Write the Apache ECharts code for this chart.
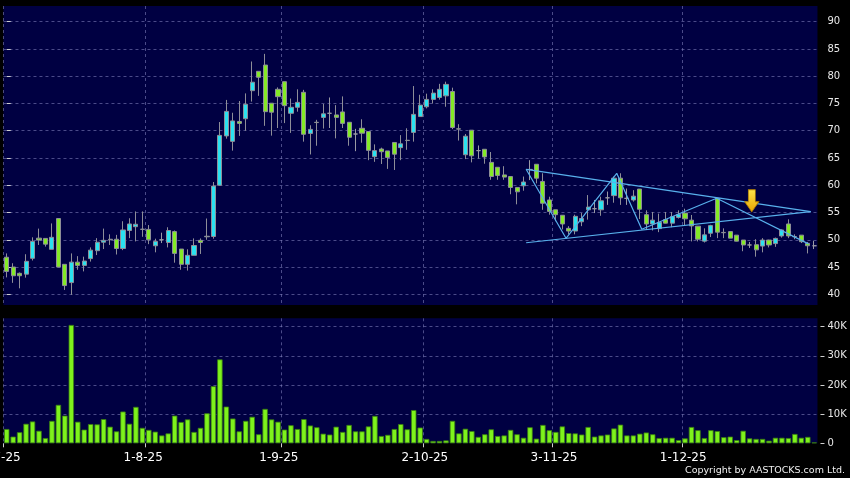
<!DOCTYPE html>
<html><head><meta charset="utf-8">
<script src="https://cdn.jsdelivr.net/npm/echarts@6/dist/echarts.min.js"></script>
<style>html,body{margin:0;padding:0;background:#000;}#c{width:850px;height:478px;}</style>
</head><body><div id="c"></div>
<script>
// Trading days per month (2025)
const julDays = [2,3,4,7,8,9,10,11,14,15,16,17,18,21,22,23,24,25,28,29,30,31];
const augDays = [1,4,5,6,7,8,11,12,13,14,15,18,19,20,21,22,25,26,27,28,29];
const sepDays = [1,2,3,4,5,8,9,10,11,12,15,16,17,18,19,22,23,24,25,26,29,30];
const octDays = [2,3,6,8,9,10,13,14,15,16,17,20,21,22,23,24,27,28,30,31];
const novDays = [3,4,5,6,7,10,11,12,13,14,17,18,19,20,21,24,25,26,27,28];
const decDays = [1,2,3,4,5,8,9,10,11,12,15,16,17,18,19,22,23,24,29,30,31];
const axisDates = ['2-7-25','1-8-25','1-9-25','2-10-25','3-11-25','1-12-25'];

const open = [46.8,45.0,43.85,43.7,46.6,50.3,50.25,48.25,53.9,45.5,
42.15,45.9,45.3,46.55,48.0,49.55,50.1,50.1,48.4,51.7,
52.4,51.95,51.9,48.9,50.0,49.5,51.5,48.3,45.5,47.15,
49.9,50.55,50.6,60.0,69.05,68.05,71.7,72.2,77.35,80.9,
82.05,75.05,77.6,79.0,73.2,74.3,77.05,69.5,71.55,72.45,
73.2,72.9,73.45,71.55,69.4,70.45,69.85,65.25,66.65,66.3,
67.85,66.9,68.25,69.7,72.6,74.4,75.75,76.1,76.4,77.2,
70.35,65.6,70.1,66.35,66.6,64.2,63.3,61.9,61.6,59.6,
59.9,62.9,63.85,60.7,57.3,55.5,54.5,52.1,51.6,53.3,
55.5,55.7,55.5,57.7,58.1,61.3,57.6,57.3,59.3,54.6,
52.9,52.05,53.7,53.05,54.1,54.9,53.6,52.5,49.75,51.2,
57.6,51.35,51.5,50.85,49.95,49.05,49.1,48.85,49.95,49.3,
50.7,52.9,50.6,50.85,49.35,48.9];
const close = [44.2,43.4,43.4,46.05,49.7,49.95,49.2,50.45,45.0,41.6,
45.9,45.3,46.1,48.1,49.55,49.9,50.0,48.4,51.8,52.9,
52.85,51.9,50.0,49.7,50.0,51.7,47.5,45.5,47.15,48.95,
49.5,50.65,59.85,69.15,73.55,71.8,71.35,74.85,78.9,79.8,
73.5,73.4,76.25,74.6,74.3,75.2,69.35,70.25,71.5,73.1,
73.2,72.45,71.35,68.8,69.4,69.55,66.4,66.35,66.15,65.1,
65.7,67.6,68.2,73.0,74.7,75.75,76.9,77.6,78.5,70.6,
70.3,69.0,65.4,66.35,65.2,61.6,61.8,61.5,59.6,58.8,
60.6,62.9,61.3,56.7,55.2,54.6,52.9,51.6,54.3,53.9,
56.0,55.7,57.15,57.7,61.3,57.7,57.6,58.0,55.6,52.9,
53.6,53.2,53.05,54.25,54.65,53.85,52.55,50.1,50.9,52.6,
51.4,51.3,50.3,49.75,49.05,49.05,48.15,49.95,49.05,50.25,
51.8,50.7,50.55,49.65,48.9,48.9];
const low = [43.1,42.1,41.1,43.05,46.2,49.05,48.75,48.25,45.0,40.8,
39.9,44.5,44.2,46.0,47.2,48.3,49.05,47.3,48.1,50.3,
49.7,50.55,49.2,47.7,49.4,48.6,45.8,44.5,44.35,47.15,
47.4,50.0,50.2,59.9,68.55,66.35,69.05,70.0,75.35,76.4,
70.9,69.1,70.5,71.4,69.6,73.5,68.0,65.65,67.25,70.4,
70.5,68.6,70.5,67.25,66.25,67.8,64.6,64.3,63.9,63.0,
62.8,64.6,66.5,68.0,72.6,74.1,75.0,75.7,74.4,70.3,
68.2,64.8,64.2,64.9,63.95,61.0,61.0,61.0,58.35,56.5,
59.0,60.95,60.35,55.5,54.6,53.4,51.9,51.0,51.0,52.5,
53.7,54.9,54.4,56.4,56.8,56.4,56.4,57.0,53.8,51.8,
51.7,51.4,53.0,52.3,53.9,52.7,49.7,49.7,49.5,50.5,
50.3,50.3,50.3,49.7,47.9,48.5,46.9,47.7,48.6,48.7,
50.4,50.3,50.1,49.4,47.5,48.3];
const high = [47.5,45.7,44.0,47.35,50.45,52.05,50.3,53.0,53.9,45.5,
47.5,47.0,46.9,48.6,50.3,52.05,51.0,50.9,53.4,53.95,
55.2,55.2,52.7,50.2,51.3,52.3,51.7,48.3,48.25,50.25,
50.25,53.9,60.6,71.6,75.65,73.3,75.45,76.85,82.7,80.9,
84.1,75.05,77.95,79.0,75.9,77.6,77.5,71.0,72.0,74.9,
76.1,74.7,76.3,71.55,70.35,72.1,69.85,67.5,66.9,66.3,
67.85,69.2,70.45,78.2,76.6,76.8,77.6,78.6,79.0,77.9,
71.2,69.4,70.1,67.3,66.6,66.1,63.3,63.5,61.6,59.6,
61.6,64.6,63.85,62.2,57.9,55.5,54.5,52.5,54.6,54.9,
58.2,57.3,57.9,58.85,61.6,62.2,59.4,59.1,59.3,55.4,
55.1,54.8,55.1,55.1,55.4,55.7,54.55,52.5,52.1,52.75,
57.6,52.1,51.5,50.85,49.95,49.6,50.1,50.3,50.0,50.4,
51.9,53.75,51.0,50.85,49.6,49.8];
// Volume in thousands of shares
const volumeK = [4.9,2.3,3.8,6.7,7.5,4.3,1.8,7.7,13.2,9.5,
40.6,7.4,4.7,6.6,6.5,8.3,5.7,4.1,10.9,6.7,
12.5,5.3,4.6,4.0,2.7,3.4,9.5,7.3,8.2,3.9,
5.3,10.3,19.6,28.8,12.6,8.5,4.1,7.7,9.1,3.1,
11.8,8.2,7.4,4.7,6.2,4.9,8.3,6.1,5.5,3.3,
3.0,5.7,3.9,6.3,4.1,4.1,5.8,9.4,2.5,2.9,
4.9,6.6,4.8,11.4,5.4,1.5,0.8,0.8,1.0,7.7,
3.4,5.0,4.2,2.2,3.1,4.8,2.5,2.7,4.6,3.1,
1.9,5.5,1.6,6.3,4.5,3.9,5.8,3.5,3.4,3.0,
5.6,2.3,2.7,3.0,5.1,6.4,2.7,2.7,3.3,3.7,
3.1,1.8,1.9,1.9,1.1,1.7,5.6,4.5,1.8,4.5,
4.2,2.1,2.3,1.1,4.3,1.7,1.5,1.5,0.9,1.9,
1.9,1.8,3.2,1.9,2.2,0.3];
// Annotation (drawn trend lines) in [candle index, price]
const triUpper = [[80.4,62.93],[124.46,55.15]];
const triLower = [[80.4,49.46],[124.46,55.15]];
const zigzag = [[80.4,62.93],[86.58,50.27],[94.43,62.19],[98.3,51.92],[109.9,57.61],[124.1,49.25]];
const arrowAt = [115.33,57.14];

const months = [[7,julDays],[8,augDays],[9,sepDays],[10,octDays],[11,novDays],[12,decDays]];
const dates = [];
months.forEach(([m, days]) => days.forEach(d => dates.push(d + '-' + m + '-25')));
const edgeDates = dates.concat(['']);
const candles = dates.map((d, i) => [open[i], close[i], low[i], high[i]]);

const FONT = 'DejaVu Sans';
const L = 3.47, W = 814;
const PANEL = '#000042';
const GRIDC = 'rgba(125,125,185,0.6)';
const showDate = (i, v) => axisDates.indexOf(v) >= 0;
const hideAll = {axisLine:{show:false},axisTick:{show:false},axisLabel:{show:false},splitLine:{show:false}};

const chart = echarts.init(document.getElementById('c'), null, {renderer:'canvas'});
chart.setOption({
  backgroundColor: '#000',
  animation: false,
  graphic: [
    {id:'bg1', type:'rect', z:-100, silent:true, shape:{x:L, y:6, width:W, height:299}, style:{fill:PANEL}},
    {id:'bg2', type:'rect', z:-100, silent:true, shape:{x:L, y:318.3, width:W, height:125}, style:{fill:PANEL}},
    {id:'copy', type:'text', right:5, top:466, style:{text:'Copyright by AASTOCKS.com Ltd.', fill:'#f0f0f0', font:'9.5px "DejaVu Sans"'}}
  ],
  grid: [
    {left:L, width:W, top:6, height:299},
    {left:L, width:W, top:21.7, height:272.6},
    {left:L, width:W, top:318.3, height:125},
    {left:L, width:W, top:326.7, height:116.6}
  ],
  xAxis: [
    {gridIndex:0, type:'category', data:edgeDates, boundaryGap:false,
      axisLine:{show:false}, axisTick:{show:false}, axisLabel:{show:false},
      splitLine:{show:true, interval:showDate, lineStyle:{color:GRIDC, type:[3,3], width:1}}},
    Object.assign({gridIndex:1, type:'category', data:dates, boundaryGap:true}, hideAll),
    Object.assign({gridIndex:1, type:'value', min:-0.5, max:dates.length-0.5}, hideAll),
    {gridIndex:2, type:'category', data:edgeDates, boundaryGap:false,
      axisLine:{show:false},
      axisTick:{show:true, interval:showDate, length:4, lineStyle:{color:'#cfcfcf'}},
      axisLabel:{show:false},
      splitLine:{show:true, interval:showDate, lineStyle:{color:GRIDC, type:[3,3], width:1}}},
    Object.assign({gridIndex:3, type:'category', data:dates, boundaryGap:true}, hideAll)
  ],
  yAxis: [
    Object.assign({gridIndex:0, type:'value'}, hideAll),
    {gridIndex:1, type:'value', min:40, max:90, interval:5, position:'right', offset:3,
      axisLine:{show:false},
      axisTick:{show:true, length:4, lineStyle:{color:'#cfcfcf'}},
      axisLabel:{margin:7, fontSize:10, fontFamily:FONT, color:'#e8e8e8'},
      splitLine:{show:true, lineStyle:{color:GRIDC, type:[3,3], width:1}}},
    Object.assign({gridIndex:2, type:'value'}, hideAll),
    {gridIndex:3, type:'value', min:0, max:40, interval:10, position:'right', offset:3,
      axisLine:{show:false},
      axisTick:{show:true, length:4, lineStyle:{color:'#cfcfcf'}},
      axisLabel:{margin:7, fontSize:10, fontFamily:FONT, color:'#e8e8e8',
        formatter: v => v === 0 ? '0' : v + 'K'},
      splitLine:{show:true, showMinLine:false, lineStyle:{color:GRIDC, type:[3,3], width:1}}}
  ],
  series: [
    {type:'candlestick', xAxisIndex:1, yAxisIndex:1, data:candles, barWidth:4.6,
      itemStyle:{color:'#2ae2f0', color0:'#84ea26', borderColor:'#8e8e98', borderColor0:'#8e8e98',
        borderColorDoji:'#9a9aa4', borderWidth:1}},
    {type:'line', xAxisIndex:2, yAxisIndex:1, data:triUpper, symbol:'none',
      lineStyle:{color:'#58b0ec', width:1.2}},
    {type:'line', xAxisIndex:2, yAxisIndex:1, data:triLower, symbol:'none',
      lineStyle:{color:'#58b0ec', width:1.2}},
    {type:'line', xAxisIndex:2, yAxisIndex:1, data:zigzag, symbol:'none',
      lineStyle:{color:'#58b0ec', width:1.2},
      markPoint:{silent:true, label:{show:false},
        data:[{coord:arrowAt, symbol:'path://M3.5,0 L10.5,0 L10.5,12 L14,12 L7,22 L0,12 L3.5,12 Z', symbolSize:[14,22],
          itemStyle:{color:{type:'linear', x:0, y:0, x2:0, y2:1, colorStops:[{offset:0,color:'#ffe54a'},{offset:1,color:'#e8a400'}]},
            borderColor:'#b58100', borderWidth:0.8}}]}},
    {type:'bar', xAxisIndex:4, yAxisIndex:3, data:volumeK, barWidth:5.4, clip:false,
      itemStyle:{color:'#7ef21c', borderColor:'#3a7d12', borderWidth:0.8}}
  ]
});

// Date tick labels: placed through the axis scale, text left edge 22px before each month gridline
const labelY = chart.convertToPixel({gridIndex:2}, [0, 0]);
const grid2Bottom = chart.getModel().getComponent('grid', 2).coordinateSystem.getRect();
const baseY = grid2Bottom.y + grid2Bottom.height;
chart.setOption({
  graphic: axisDates.map((t, n) => ({
    id: 'dl' + n, type: 'text',
    x: chart.convertToPixel({xAxisIndex:3}, t) - 22,
    y: baseY + 15,
    style: {text: t, fill: '#ffffff', font: '12px "DejaVu Sans"', textAlign: 'left', textVerticalAlign: 'middle'}
  }))
});
</script></body></html>
